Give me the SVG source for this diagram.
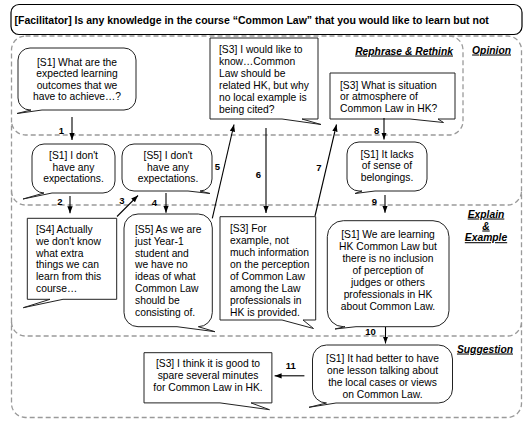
<svg xmlns="http://www.w3.org/2000/svg" width="529" height="424" viewBox="0 0 529 424">
<style>
.bg{fill:#fff}
.node{fill:#fff;stroke:#222;stroke-width:1}
.reg{fill:none;stroke:#9a9a9a;stroke-width:1.3;stroke-dasharray:5 3}
.t{font-family:"Liberation Sans",Arial,sans-serif;font-size:10.3px;fill:#000}
.c{text-anchor:middle}
.lab{font-family:"Liberation Sans",Arial,sans-serif;font-size:10.3px;font-weight:bold;font-style:italic;text-decoration:underline;fill:#000}
.num{font-family:"Liberation Sans",Arial,sans-serif;font-size:9.5px;font-weight:bold;fill:#000;text-anchor:middle}
.con{stroke:#000;stroke-width:1.1;fill:none;marker-end:url(#ah)}
</style>
<defs>
<marker id="ah" viewBox="0 0 10 10" refX="10" refY="5" markerWidth="7" markerHeight="7" markerUnits="userSpaceOnUse" orient="auto">
<path d="M0,1.2 L10,5 L0,8.8 Z" fill="#000"/>
</marker>
</defs>
<rect class="bg" x="0" y="0" width="529" height="424"/>

<g id="header">
<rect x="11" y="4.5" width="511" height="30" rx="8" fill="#fff" stroke="#000" stroke-width="1.2"/>
<text x="14.5" y="23.5" style="font-family:'Liberation Sans',Arial,sans-serif;font-size:10.5px;font-weight:bold;fill:#000">[Facilitator] Is any knowledge in the course “Common Law” that you would like to learn but not</text>
</g>

<g id="regions">
<rect class="reg" x="11.5" y="36" width="510" height="381.5" rx="14"/>
<path class="reg" d="M449,36 A14,14 0 0 1 463,50 V121 A14,14 0 0 1 449,135 H25.5 A14,14 0 0 1 11.5,121"/>
<path class="reg" d="M11.5,191 A14,14 0 0 0 25.5,205 H507.5 A14,14 0 0 0 521.5,191"/>
<path class="reg" d="M11.5,322 A14,14 0 0 0 25.5,336 H507.5 A14,14 0 0 0 521.5,322"/>
<text class="lab" x="453" y="54.5" text-anchor="end">Rephrase &amp; Rethink</text>
<text class="lab" x="511" y="53.5" text-anchor="end">Opinion</text>
<text class="lab" x="486" y="217.5" text-anchor="middle">Explain</text>
<text class="lab" x="486" y="229.5" text-anchor="middle">&amp;</text>
<text class="lab" x="486" y="241.2" text-anchor="middle">Example</text>
<text class="lab" x="513" y="352.5" text-anchor="end">Suggestion</text>
</g>

<g id="n_s1_outcomes">
<path class="node" d="M30,48 H124 A12,12 0 0 1 136,60 V98 A12,12 0 0 1 124,110 H42 L17,113.5 L31,110 H30 A12,12 0 0 1 18,98 V60 A12,12 0 0 1 30,48 Z"/>
<text class="t c" x="77" y="65.5">[S1] What are the</text>
<text class="t c" x="77" y="77">expected learning</text>
<text class="t c" x="77" y="88.5">outcomes that we</text>
<text class="t c" x="77" y="100">have to achieve…?</text>
</g>

<g id="n_s3_wouldlike">
<path class="node" d="M210,38 H318 V119 H302 L321,124.5 L282,119 H210 Z"/>
<text class="t" x="219" y="53">[S3] I would like to</text>
<text class="t" x="219" y="64.9">know…Common</text>
<text class="t" x="219" y="76.8">Law should be</text>
<text class="t" x="219" y="88.7">related HK, but why</text>
<text class="t" x="219" y="100.6">no local example is</text>
<text class="t" x="219" y="112.5">being cited?</text>
</g>

<g id="n_s3_situation">
<path class="node" d="M330,73 H455 V119 H438 L443.5,122.5 L410,119 H330 Z"/>
<text class="t" x="340" y="88.5">[S3] What is situation</text>
<text class="t" x="340" y="100">or atmosphere of</text>
<text class="t" x="340" y="111.5">Common Law in HK?</text>
</g>

<g id="n_s1_noexp">
<path class="node" d="M44,144 H103 A12,12 0 0 1 115,156 V181 A12,12 0 0 1 103,193 H52 L23,199 L44,193 A12,12 0 0 1 32,181 V156 A12,12 0 0 1 44,144 Z"/>
<text class="t c" x="73.5" y="158.7">[S1] I don't</text>
<text class="t c" x="73.5" y="170.5">have any</text>
<text class="t c" x="73.5" y="182.3">expectations.</text>
</g>

<g id="n_s5_noexp">
<path class="node" d="M134,144 H200 A12,12 0 0 1 212,156 V179 A12,12 0 0 1 200,191 L210,193.5 L188,191 H134 A12,12 0 0 1 122,179 V156 A12,12 0 0 1 134,144 Z"/>
<text class="t c" x="168" y="158.7">[S5] I don't</text>
<text class="t c" x="168" y="170.5">have any</text>
<text class="t c" x="168" y="182.3">expectations.</text>
</g>

<g id="n_s1_belong">
<path class="node" d="M359,142 H415 A12,12 0 0 1 427,154 V179 A12,12 0 0 1 415,191 H375 L355,193.5 L362,191 H359 A12,12 0 0 1 347,179 V154 A12,12 0 0 1 359,142 Z"/>
<text class="t c" x="387" y="157.5">[S1] It lacks</text>
<text class="t c" x="387" y="169">of sense of</text>
<text class="t c" x="387" y="180.5">belongings.</text>
</g>

<g id="n_s4_actually">
<path class="node" d="M27.3,218.3 H116.7 V299.3 H63 L23.3,307.7 L50,299.3 H27.3 Z"/>
<text class="t" x="36" y="233">[S4] Actually</text>
<text class="t" x="36" y="244.8">we don't know</text>
<text class="t" x="36" y="256.6">what extra</text>
<text class="t" x="36" y="268.4">things we can</text>
<text class="t" x="36" y="280.2">learn from this</text>
<text class="t" x="36" y="292">course…</text>
</g>

<g id="n_s5_year1">
<path class="node" d="M138,214 H198.3 A14,14 0 0 1 212.3,228 V312.7 A14,14 0 0 1 198.3,326.7 L215,331.7 L177,326.7 H138 A14,14 0 0 1 124,312.7 V228 A14,14 0 0 1 138,214 Z"/>
<text class="t" x="135" y="233">[S5] As we are</text>
<text class="t" x="135" y="244.8">just Year-1</text>
<text class="t" x="135" y="256.6">student and</text>
<text class="t" x="135" y="268.4">we have no</text>
<text class="t" x="135" y="280.2">ideas of what</text>
<text class="t" x="135" y="292">Common Law</text>
<text class="t" x="135" y="303.8">should be</text>
<text class="t" x="135" y="315.6">consisting of.</text>
</g>

<g id="n_s3_example">
<path class="node" d="M220,216.7 H315.7 V320 H303 L313.5,328.5 L282,320 H220 Z"/>
<text class="t" x="230" y="231.5">[S3] For</text>
<text class="t" x="230" y="243.5">example, not</text>
<text class="t" x="230" y="255.5">much information</text>
<text class="t" x="230" y="267.5">on the perception</text>
<text class="t" x="230" y="279.5">of Common Law</text>
<text class="t" x="230" y="291.5">among the Law</text>
<text class="t" x="230" y="303.5">professionals in</text>
<text class="t" x="230" y="315.5">HK is provided.</text>
</g>

<g id="n_s1_learning">
<path class="node" d="M343.3,220.7 H433 A16,16 0 0 1 449,236.7 V310.7 A16,16 0 0 1 433,326.7 H356 L335,329 L345,326.7 H343.3 A16,16 0 0 1 327.3,310.7 V236.7 A16,16 0 0 1 343.3,220.7 Z"/>
<text class="t c" x="388" y="238">[S1] We are learning</text>
<text class="t c" x="388" y="249.9">HK Common Law but</text>
<text class="t c" x="388" y="261.9">there is no inclusion</text>
<text class="t c" x="388" y="273.8">of perception of</text>
<text class="t c" x="388" y="285.8">judges or others</text>
<text class="t c" x="388" y="297.7">professionals in HK</text>
<text class="t c" x="388" y="309.7">about Common Law.</text>
</g>

<g id="n_s1_better">
<path class="node" d="M326.5,345 H438.5 A14,14 0 0 1 452.5,359 V389 A14,14 0 0 1 438.5,403 H336 L309,407.3 L326.5,403 A14,14 0 0 1 312.5,389 V359 A14,14 0 0 1 326.5,345 Z"/>
<text class="t c" x="382.5" y="361.5">[S1] It had better to have</text>
<text class="t c" x="382.5" y="373.5">one lesson talking about</text>
<text class="t c" x="382.5" y="385.5">the local cases or views</text>
<text class="t c" x="382.5" y="397.5">on Common Law.</text>
</g>

<g id="n_s3_spare">
<path class="node" d="M144,352.7 H271.9 V402.9 H251 L269.5,409.7 L220,402.9 H144 Z"/>
<text class="t c" x="208" y="366.6">[S3] I think it is good to</text>
<text class="t c" x="208" y="378.6">spare several minutes</text>
<text class="t c" x="208" y="390.6">for Common Law in HK.</text>
</g>

<g id="connectors">
<line class="con" x1="72" y1="117" x2="72" y2="140"/>
<text class="num" x="61.5" y="133.5">1</text>
<line class="con" x1="70" y1="196" x2="70" y2="213.3"/>
<text class="num" x="60" y="205">2</text>
<line class="con" x1="117" y1="216.5" x2="138" y2="195.5"/>
<text class="num" x="122" y="204">3</text>
<line class="con" x1="166" y1="193" x2="166" y2="212.7"/>
<text class="num" x="154.5" y="206">4</text>
<line class="con" x1="212.3" y1="218.3" x2="234" y2="124.5"/>
<text class="num" x="217.5" y="170">5</text>
<line class="con" x1="266" y1="128" x2="266" y2="213"/>
<text class="num" x="258.5" y="177.5">6</text>
<line class="con" x1="315" y1="216" x2="336.5" y2="124.5"/>
<text class="num" x="319" y="170.6">7</text>
<line class="con" x1="384" y1="118" x2="384" y2="139.5"/>
<text class="num" x="376.7" y="133.5">8</text>
<line class="con" x1="385" y1="195" x2="385" y2="212.7"/>
<text class="num" x="374.3" y="204.5">9</text>
<line class="con" x1="385.5" y1="327" x2="385.5" y2="343.5"/>
<text class="num" x="370.5" y="335.3">10</text>
<line class="con" x1="304.4" y1="375.8" x2="274.6" y2="375.8"/>
<text class="num" x="290.8" y="368.5">11</text>
</g>
</svg>
